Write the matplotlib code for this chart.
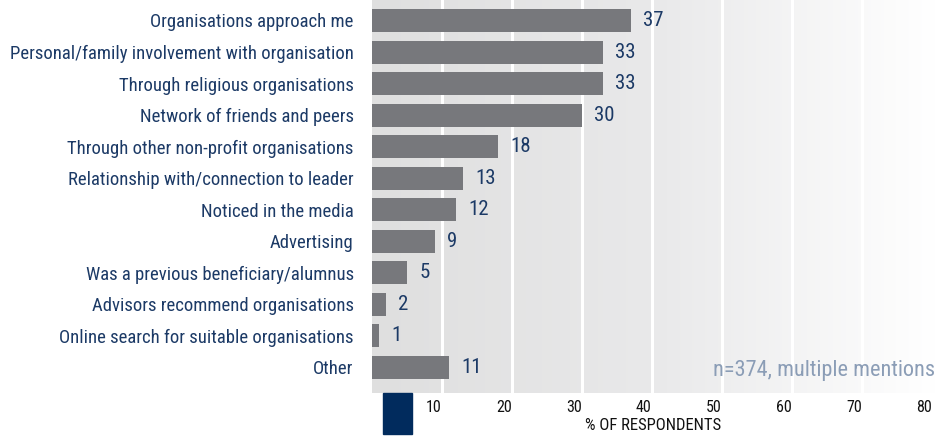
import numpy as np
import matplotlib.pyplot as plt
from matplotlib.colors import LinearSegmentedColormap
from matplotlib.patches import Rectangle

categories = [
    "Organisations approach me",
    "Personal/family involvement with organisation",
    "Through religious organisations",
    "Network of friends and peers",
    "Through other non-profit organisations",
    "Relationship with/connection to leader",
    "Noticed in the media",
    "Advertising",
    "Was a previous beneficiary/alumnus",
    "Advisors recommend organisations",
    "Online search for suitable organisations",
    "Other",
]
values = [37, 33, 33, 30, 18, 13, 12, 9, 5, 2, 1, 11]
tick_values = [10, 20, 30, 40, 50, 60, 70, 80]
note = "n=374, multiple mentions"
x_label = "% OF RESPONDENTS"

NAVY = "#1c3a66"
BAR = "#77787c"

plt.rcParams["font.family"] = ["Roboto Condensed", "DejaVu Sans"]

fig = plt.figure(figsize=(9.35, 4.38), dpi=100)
ax = fig.add_axes([371.7 / 935, 45 / 438, 1 - 371.7 / 935, 393 / 438])

xmax = (935 - 371.7) / 7.0
n = len(categories)
ylim = (n - 1 + 0.815, -0.65)
ax.set_xlim(0, xmax)
ax.set_ylim(*ylim)

# left-to-right grey fade behind the bars
fade = LinearSegmentedColormap.from_list("fade", ["#dfdfdf", "#e9e9ea", "#ffffff"])
grad = np.linspace(0, 1, 256).reshape(1, -1)
ax.imshow(grad, cmap=fade, extent=[0, xmax, ylim[0], ylim[1]],
          aspect="auto", zorder=0)
for t in tick_values[:-1]:
    ax.axvline(t, color="white", lw=2.2, zorder=1)

y = np.arange(n)
ax.barh(y, values, height=0.73, color=BAR, zorder=2)
for yi, v in zip(y, values):
    ax.annotate(str(v), (v, yi), xytext=(9, 0), textcoords="offset points",
                va="center", ha="left", fontsize=15, color=NAVY)

ax.set_yticks(y)
ax.set_yticklabels(categories, fontsize=13.5, color=NAVY)
ax.set_xticks(tick_values)
ax.set_xticklabels([str(t) for t in tick_values], fontsize=11.5,
                   color="#111111", ha="right")
ax.tick_params(axis="y", length=0, pad=13)
ax.tick_params(axis="x", length=0, pad=5)
ax.set_xlabel(x_label, fontsize=12, color="#111111", labelpad=2)
for s in ax.spines.values():
    s.set_visible(False)

ax.text(1.0, n - 1 + 0.1, note, transform=ax.get_yaxis_transform(),
        ha="right", va="center", fontsize=16, color="#8b9db6")

fig.patches.append(Rectangle((382.7 / 935, 4 / 438), 29.3 / 935, 41 / 438,
                             transform=fig.transFigure, color="#012b5d",
                             zorder=5))

fig.savefig("out.png", dpi=100)
